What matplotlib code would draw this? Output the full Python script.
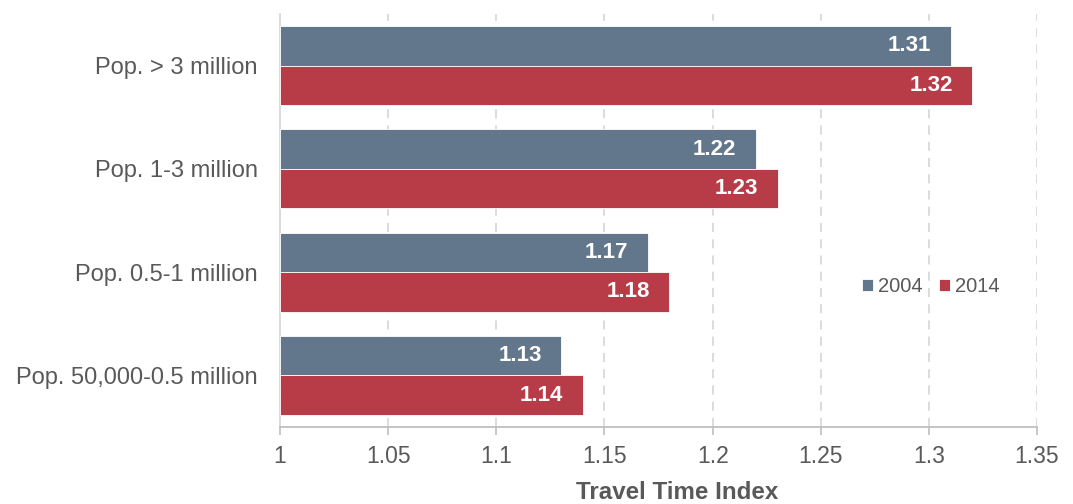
import matplotlib.pyplot as plt
import numpy as np

plt.rcParams['font.family'] = ['Liberation Sans', 'DejaVu Sans']

# Datos del gráfico
categorias = ['Pop. > 3 million', 'Pop. 1-3 million', 'Pop. 0.5-1 million', 'Pop. 50,000-0.5 million']
valores_2004 = [1.31, 1.22, 1.17, 1.13]
valores_2014 = [1.32, 1.23, 1.18, 1.14]
ticks_x = [1, 1.05, 1.1, 1.15, 1.2, 1.25, 1.3, 1.35]
etiquetas_x = ['1', '1.05', '1.1', '1.15', '1.2', '1.25', '1.3', '1.35']

color_2004 = '#62778C'
color_2014 = '#B83C48'
gris = '#595959'

fig = plt.figure(figsize=(10.73, 5.04), dpi=100)
ax = fig.add_axes([0.261, 0.153, 0.7055, 0.819])

y = np.arange(len(categorias))
h = 0.382
base = 1.0

b1 = ax.barh(y - h / 2, np.array(valores_2004) - base, height=h, left=base,
             color=color_2004, edgecolor='white', linewidth=0.6, label='2004', zorder=3)
b2 = ax.barh(y + h / 2, np.array(valores_2014) - base, height=h, left=base,
             color=color_2014, edgecolor='white', linewidth=0.6, label='2014', zorder=3)

# Etiquetas de valores dentro de las barras
for barras, vals in ((b1, valores_2004), (b2, valores_2014)):
    for rect, v in zip(barras, vals):
        ax.annotate(f'{v:.2f}', xy=(v, rect.get_y() + rect.get_height() / 2),
                    xytext=(-14, 0), textcoords='offset points',
                    ha='right', va='center', color='white', fontsize=16,
                    fontweight='bold', zorder=4)

ax.set_xlim(1, 1.35)
ax.set_ylim(len(categorias) - 0.5, -0.5)
ax.set_xticks(ticks_x)
ax.set_xticklabels(etiquetas_x)
ax.set_yticks(y)
ax.set_yticklabels(categorias)

ax.tick_params(axis='x', colors='#BFBFBF', labelcolor=gris, labelsize=16.5,
               length=6, width=1.2, pad=7)
ax.tick_params(axis='y', length=0, labelcolor=gris, labelsize=17, pad=16)

ax.grid(axis='x', color='#D9D9D9', linestyle=(0, (5, 4)), linewidth=1.3, zorder=0)
for lado in ('top', 'right'):
    ax.spines[lado].set_visible(False)
ax.spines['left'].set_color('#D9D9D9')
ax.spines['left'].set_linewidth(1.3)
ax.spines['bottom'].set_color('#BFBFBF')
ax.spines['bottom'].set_linewidth(1.3)

# Título del eje x (algo desplazado a la derecha, como en el original)
fig.text(677.5 / 1073, 1 - 499 / 504, 'Travel Time Index', fontsize=17.4,
         fontweight='bold', color=gris, ha='center', va='baseline')

ax.legend(loc='center', bbox_to_anchor=(0.86, 0.34), ncol=2, frameon=False,
          fontsize=14.5, labelcolor=gris, handlelength=0.55, handleheight=0.55,
          handletextpad=0.25, columnspacing=0.8)

plt.savefig('out.png', dpi=100)
